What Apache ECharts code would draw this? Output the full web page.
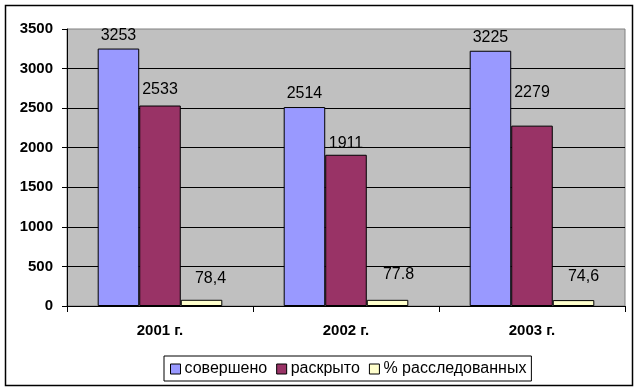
<!DOCTYPE html>
<html>
<head>
<meta charset="utf-8">
<script src="https://cdn.jsdelivr.net/npm/echarts@6/dist/echarts.min.js"></script>
<style>
html,body{margin:0;padding:0;background:#fff;}
#c{width:641px;height:392px;}
</style>
</head>
<body>
<div id="c"></div>
<script>
var categories = ['2001 г.', '2002 г.', '2003 г.'];
var seriesNames = ['совершено', 'раскрыто', '% расследованных'];
var committed = [3253, 2514, 3225];
var solved = [2533, 1911, 2279];
var pct = [78.4, 77.8, 74.6];
var pctLabels = ['78,4', '77.8', '74,6'];
var yTicks = [0, 500, 1000, 1500, 2000, 2500, 3000, 3500];

var FONT = '"Liberation Sans", Arial, sans-serif';
var colors = ['#9999FF', '#993366', '#FFFFCC'];
// label offsets (style only)
var offsets = [
  [[0,0],[0,0],[0,0]],
  [[0,-3],[0,2],[0,-20]],
  [[9,-8],[11,-12],[10,-11]]
];

function mkSeries(idx, values, labelTexts) {
  return {
    name: seriesNames[idx],
    type: 'bar',
    barGap: '0%',
    barCategoryGap: '33%',
    itemStyle: { color: colors[idx], borderColor: '#000', borderWidth: 1 },
    label: {
      show: true, position: 'top', color: '#000',
      fontFamily: FONT, fontSize: 16, distance: 5
    },
    data: values.map(function (v, i) {
      var o = { value: v, label: { offset: offsets[idx][i] } };
      if (labelTexts) o.label.formatter = labelTexts[i];
      return o;
    })
  };
}

var chart = echarts.init(document.getElementById('c'), null, { renderer: 'canvas' });
chart.setOption({
  animation: false,
  backgroundColor: '#fff',
  graphic: [{
    type: 'rect', shape: { x: 5.5, y: 5.5, width: 627, height: 380 },
    style: { fill: 'none', stroke: '#000', lineWidth: 1.5 }, z: -1
  }],
  grid: {
    left: 67, right: 16, top: 29, bottom: 86,
    show: true, backgroundColor: '#C0C0C0', borderColor: '#808080', borderWidth: 1
  },
  legend: {
    left: 164, top: 356,
    padding: [5, 5, 4, 6],
    borderColor: '#000', borderWidth: 1,
    itemWidth: 10, itemHeight: 10, itemGap: 9,
    icon: 'rect',
    textStyle: { fontFamily: FONT, fontSize: 16, color: '#000', padding: [0, 0, 0, -1] },
    data: seriesNames.map(function (n, i) {
      return { name: n, itemStyle: { color: colors[i], borderColor: '#000', borderWidth: 1 } };
    })
  },
  xAxis: {
    type: 'category', data: categories,
    axisLine: { lineStyle: { color: '#000', width: 1 } },
    axisTick: { show: true, length: 6, lineStyle: { color: '#000' } },
    axisLabel: { fontFamily: FONT, fontSize: 15, fontWeight: 'bold', color: '#000', margin: 17 }
  },
  yAxis: {
    type: 'value', min: 0, max: 3500, interval: 500,
    axisLine: { show: true, lineStyle: { color: '#000', width: 1 } },
    axisTick: { show: true, length: 5, lineStyle: { color: '#000' } },
    axisLabel: {
      fontFamily: FONT, fontSize: 15, fontWeight: 'bold', color: '#000', margin: 14,
      formatter: function (v) { return yTicks.indexOf(v) >= 0 ? String(v) : ''; }
    },
    splitLine: { show: true, showMaxLine: false, lineStyle: { color: '#000', width: 1 } }
  },
  series: [
    mkSeries(0, committed),
    mkSeries(1, solved),
    mkSeries(2, pct, pctLabels)
  ]
});
</script>
</body>
</html>
